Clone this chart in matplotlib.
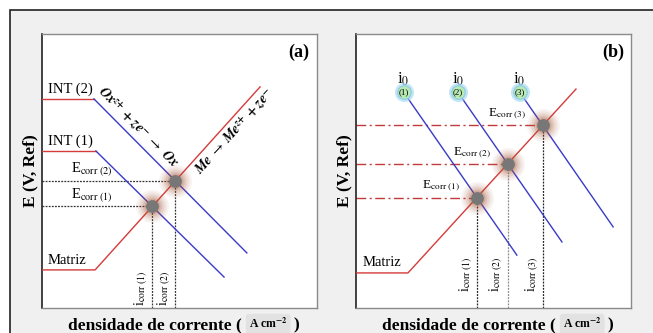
import numpy as np
import matplotlib.pyplot as plt
from matplotlib.patches import Rectangle

plt.rcParams['font.family'] = 'serif'
plt.rcParams['font.serif'] = ['Liberation Serif', 'DejaVu Serif']
plt.rcParams['mathtext.fontset'] = 'stix'

RED = '#d63a3a'
BLUE = '#3a3ac8'
DASH_RED = '#c23a3a'

# schematic Evans diagrams, both axes in arbitrary units 0..100
# panel (a): one metal (Matriz), two cathodic reactions on intermetallics
MATRIZ_A_X = [0, 19.3, 79.3]
MATRIZ_A_Y = [13.9, 13.9, 80.7]
INT_A_X = [[0, 19.6, 66.2], [0, 18.9, 74.5]]
INT_A_Y = [[57.3, 57.3, 11.3], [76.3, 76.3, 20.1]]
INT_A_LABELS = ['INT (1)', 'INT (2)']

# panel (b): one metal, three exchange current densities i0
MATRIZ_B_X = [0, 18.9, 80.0]
MATRIZ_B_Y = [12.8, 12.8, 79.9]
I0_X = [17.3, 37.0, 59.5]
I0_Y = [78.8, 78.8, 78.8]
CATH_END_X = [58.5, 74.9, 93.5]
CATH_END_Y = [19.3, 24.1, 29.6]
I0_LABELS = ['(1)', '(2)', '(3)']

OX_LABEL = (r'$\mathbfit{Ox}^{\mathbfit{z}\mathbf{+}}\ \mathbf{+}\ \mathbfit{ze}^{\mathbf{-}}'
            r'\ \rightarrow\ \mathbfit{Ox}$')
ME_LABEL = (r'$\mathbfit{Me}\ \rightarrow\ \mathbfit{Me}^{\mathbfit{z}\mathbf{+}}'
            r'\ \mathbf{+}\ \mathbfit{ze}^{\mathbf{-}}$')


def crossing(x1, y1, x2, y2):
  """Intersection of the last segments of two polylines."""
  m1 = (y1[-1] - y1[-2]) / (x1[-1] - x1[-2])
  m2 = (y2[-1] - y2[-2]) / (x2[-1] - x2[-2])
  x = (y2[-2] - m2 * x2[-2] - y1[-2] + m1 * x1[-2]) / (m1 - m2)
  return x, y1[-2] + m1 * (x - x1[-2])


def glow_dot(ax, x, y):
  for s, a in zip([560, 420, 300, 200, 130], [0.07, 0.09, 0.12, 0.16, 0.22]):
    ax.scatter(x, y, s=s, color='#a8583a', alpha=a, lw=0, zorder=4)
  ax.scatter(x, y, s=85, color='#777777', lw=0, zorder=5)


def seg_angle(ax, xs, ys):
  p1 = ax.transData.transform((xs[-2], ys[-2]))
  p2 = ax.transData.transform((xs[-1], ys[-1]))
  return np.degrees(np.arctan2(p2[1] - p1[1], p2[0] - p1[0]))


def style_panel(ax, tag):
  ax.set_xlim(0, 100)
  ax.set_ylim(0, 100)
  ax.set_xticks([])
  ax.set_yticks([])
  for side in ['top', 'right', 'bottom']:
    ax.spines[side].set_color('#8a8a8a')
    ax.spines[side].set_linewidth(1.0)
  ax.spines['left'].set_color('#222222')
  ax.spines['left'].set_linewidth(1.2)
  ax.text(93.5, 93.4, tag, fontsize=13, fontweight='bold', ha='center', va='center')
  ax.text(-0.044, 0.5, 'E (V, Ref)', transform=ax.transAxes, rotation=90,
          fontsize=12.5, fontweight='bold', ha='center', va='center')
  t1 = ax.text(0.095, -0.077, 'densidade de corrente (', transform=ax.transAxes,
               fontsize=12.5, fontweight='bold', ha='left', va='baseline')
  t2 = ax.annotate(r'A cm$^{\mathbf{-2}}$', xy=(1, 0), xycoords=t1, xytext=(5, 1.5),
                   textcoords='offset points', fontsize=8.5, fontweight='bold',
                   ha='left', va='bottom', annotation_clip=False,
                   bbox=dict(boxstyle='round,pad=0.25', fc='#e2e2e2', ec='none'))
  ax.annotate(')', xy=(1, 0), xycoords=t2, xytext=(4, -1.5),
              textcoords='offset points', fontsize=12.5, fontweight='bold',
              ha='left', va='bottom', annotation_clip=False)


fig = plt.figure(figsize=(6.53, 3.33), dpi=100)
fig.add_artist(Rectangle((9.5 / 653, -0.1), 1.0, 0.1 + 323 / 333, transform=fig.transFigure,
                         fc='#f0f0f0', ec='#222222', lw=1.2, zorder=0))

ax_a = fig.add_axes([42 / 653, 25 / 333, 275 / 653, 274 / 333])
ax_b = fig.add_axes([356 / 653, 25 / 333, 275 / 653, 274 / 333])
style_panel(ax_a, '(a)')
style_panel(ax_b, '(b)')

# ---------------- panel (a) ----------------
ax = ax_a
ax.plot(MATRIZ_A_X, MATRIZ_A_Y, color=RED, lw=1.0, zorder=3)
ax.text(2.2, 15.0, 'Matriz', fontsize=10.5, va='bottom')
for i, (xs, ys, lab) in enumerate(zip(INT_A_X, INT_A_Y, INT_A_LABELS)):
  ax.plot(xs[:2], ys[:2], color=RED, lw=1.0, zorder=3)
  ax.plot(xs[1:], ys[1:], color=BLUE, lw=1.0, zorder=3)
  ax.text(2.2, ys[0] + 1.0, lab, fontsize=10.5, va='bottom')
  xc, yc = crossing(MATRIZ_A_X, MATRIZ_A_Y, xs, ys)
  ax.plot([0, xc], [yc, yc], color='#333333', lw=0.9, ls=(0, (1.5, 1)), zorder=2)
  ax.plot([xc, xc], [0, yc], color='#333333', lw=0.9, ls=(0, (1.5, 1)), zorder=2)
  glow_dot(ax, xc, yc)
  ax.text(10.5, yc + 1.0, r'E$_{\rm corr\ (%d)}$' % (i + 1), fontsize=10.5, va='bottom')
  ax.text(xc - 0.8, 0.8, r'i$_{\rm corr\ (%d)}$' % (i + 1), fontsize=10,
          rotation=90, ha='right', va='bottom')

ax.text(35.0, 66.0, OX_LABEL, fontsize=10,
        rotation=seg_angle(ax, INT_A_X[1], INT_A_Y[1]), rotation_mode='anchor',
        ha='center', va='center')
ax.text(70.2, 64.4, ME_LABEL, fontsize=10,
        rotation=seg_angle(ax, MATRIZ_A_X, MATRIZ_A_Y), rotation_mode='anchor',
        ha='center', va='center')

# ---------------- panel (b) ----------------
ax = ax_b
ax.plot(MATRIZ_B_X, MATRIZ_B_Y, color=RED, lw=1.0, zorder=3)
ax.text(2.5, 14.2, 'Matriz', fontsize=10.5, va='bottom')
vcolors = ['#222222', '#8a8a8a', '#222222']
for i in range(len(I0_X)):
  xs = [I0_X[i], CATH_END_X[i]]
  ys = [I0_Y[i], CATH_END_Y[i]]
  ax.plot(xs, ys, color=BLUE, lw=1.0, zorder=3)
  ax.scatter(I0_X[i], I0_Y[i], s=190, color='#9fd6f2', alpha=0.6, lw=0, zorder=5)
  ax.scatter(I0_X[i], I0_Y[i], s=95, color='#b8eab4', edgecolor='#8ccbe8', lw=0.8, zorder=6)
  ax.text(I0_X[i], I0_Y[i], I0_LABELS[i], fontsize=6.5, ha='center', va='center', zorder=7)
  ax.text(I0_X[i], I0_Y[i] + 4.6, r'i$_0$', fontsize=12, ha='center', va='center')
  xc, yc = crossing(MATRIZ_B_X, MATRIZ_B_Y, xs, ys)
  ax.plot([0, xc], [yc, yc], color=DASH_RED, lw=1.0, ls=(0, (7, 2.5, 1.5, 2.5)), zorder=2)
  ax.plot([xc, xc], [0, yc], color=vcolors[i], lw=0.9, ls=(0, (1.5, 1)), zorder=2)
  glow_dot(ax, xc, yc)
  ax.text(xc - 6.0, yc + 1.5, r'E$_{\rm corr\ (%d)}$' % (i + 1), fontsize=9.5,
          ha='right', va='bottom')
  ax.text(xc - 0.8, 5.8, r'i$_{\rm corr\ (%d)}$' % (i + 1), fontsize=10,
          rotation=90, ha='right', va='bottom')

fig.savefig('out.png', dpi=100)
